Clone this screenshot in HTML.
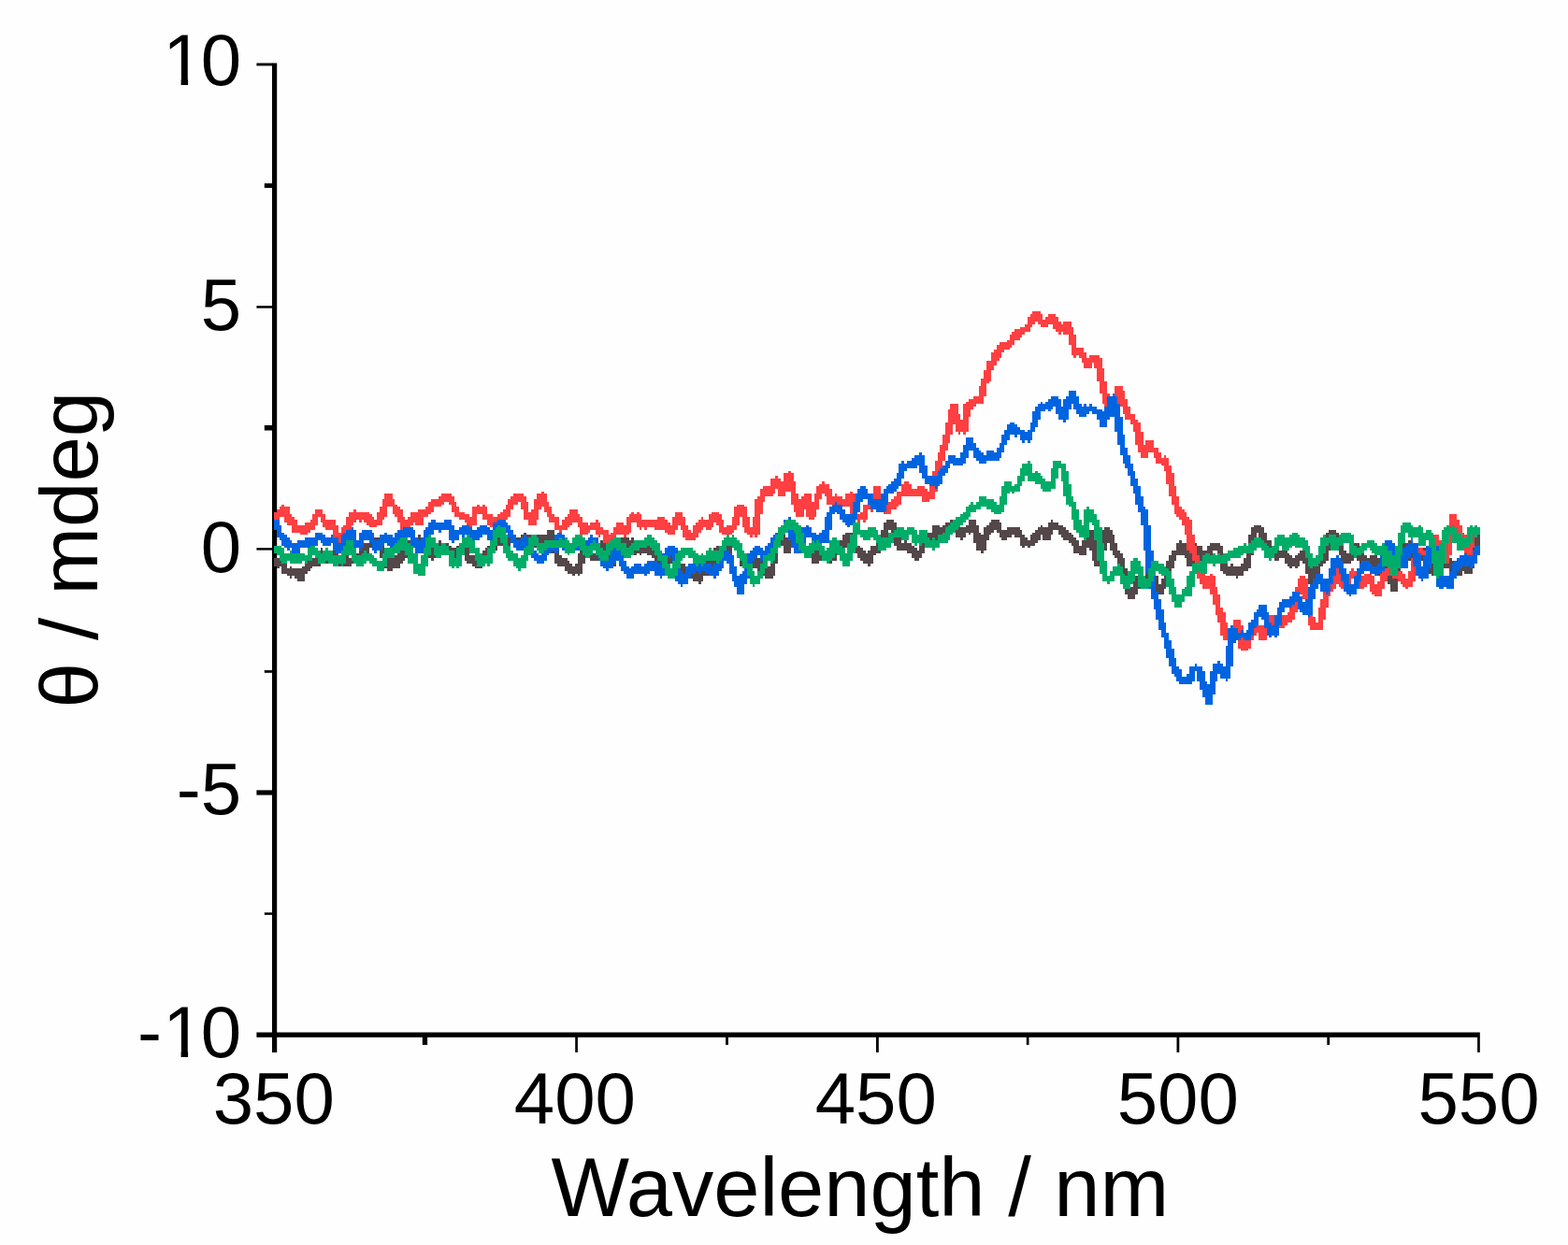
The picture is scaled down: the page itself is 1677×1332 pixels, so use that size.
<!DOCTYPE html>
<html><head><meta charset="utf-8"><title>CD spectrum</title>
<style>html,body{margin:0;padding:0;background:#fefefe;}svg{display:block;}</style>
</head><body>
<svg width="1677" height="1332" viewBox="0 0 1677 1332">
<rect width="1677" height="1332" fill="#fefefe"/>
<g fill="#000">
<rect x="291.0" y="67.5" width="5.2" height="1058.5"/>
<rect x="274.4" y="1104.5" width="1308.4" height="5.3"/>
<rect x="274.4" y="67.5" width="17.1" height="2.9"/>
<rect x="274.4" y="327.2" width="17.1" height="2.5"/>
<rect x="274.4" y="586.2" width="17.1" height="2.4"/>
<rect x="274.4" y="845.4" width="17.1" height="5.2"/>
<rect x="282.8" y="196.2" width="8.7" height="4.8"/>
<rect x="282.8" y="455.0" width="8.7" height="5.5"/>
<rect x="282.8" y="717.1" width="8.7" height="2.7"/>
<rect x="282.8" y="976.3" width="8.7" height="2.5"/>
<rect x="615.2" y="1109" width="2.7" height="16.9"/>
<rect x="937.0" y="1109" width="2.8" height="16.9"/>
<rect x="1258.5" y="1109" width="2.8" height="16.9"/>
<rect x="1580.1" y="1109" width="2.7" height="16.9"/>
<rect x="451.8" y="1109" width="5.3" height="8.9"/>
<rect x="776.1" y="1109" width="2.8" height="8.9"/>
<rect x="1097.8" y="1109" width="2.7" height="8.9"/>
<rect x="1419.3" y="1109" width="2.8" height="8.9"/>
</g>
<g fill="none" stroke-width="8" stroke-linejoin="miter" stroke-miterlimit="2" stroke-linecap="butt" shape-rendering="crispEdges">
<path fill="#534749" stroke="none" d="M948 556h8v3h-8zM1016 556h3v3h-3zM1022 556h3v3h-3zM1036 556h8v3h-8zM1060 556h9v3h-9zM1124 556h2v3h-2zM945 559h14v3h-14zM1011 559h16v3h-16zM1036 559h8v3h-8zM1058 559h13v3h-13zM1121 559h11v3h-11zM945 562h14v2h-14zM997 562h8v2h-8zM1008 562h19v2h-19zM1033 562h14v2h-14zM1055 562h16v2h-16zM1113 562h2v2h-2zM1121 562h16v2h-16zM1341 562h8v2h-8zM945 564h16v3h-16zM997 564h50v3h-50zM1052 564h19v3h-19zM1077 564h14v3h-14zM1110 564h30v3h-30zM1181 564h6v3h-6zM1338 564h14v3h-14zM585 567h8v3h-8zM942 567h8v3h-8zM953 567h8v3h-8zM997 567h19v3h-19zM1022 567h25v3h-25zM1052 567h11v3h-11zM1066 567h27v3h-27zM1107 567h19v3h-19zM1132 567h11v3h-11zM1162 567h8v3h-8zM1179 567h11v3h-11zM1338 567h14v3h-14zM1421 567h8v3h-8zM560 570h3v2h-3zM585 570h8v2h-8zM829 570h3v2h-3zM835 570h3v2h-3zM846 570h3v2h-3zM904 570h8v2h-8zM942 570h8v2h-8zM953 570h8v2h-8zM992 570h22v2h-22zM1022 570h11v2h-11zM1036 570h2v2h-2zM1041 570h8v2h-8zM1052 570h8v2h-8zM1069 570h24v2h-24zM1104 570h22v2h-22zM1132 570h14v2h-14zM1162 570h8v2h-8zM1179 570h11v2h-11zM1338 570h6v2h-6zM1346 570h9v2h-9zM1418 570h14v2h-14zM447 572h3v3h-3zM541 572h8v3h-8zM557 572h11v3h-11zM574 572h19v3h-19zM827 572h13v3h-13zM843 572h11v3h-11zM901 572h14v3h-14zM942 572h8v3h-8zM956 572h5v3h-5zM989 572h22v3h-22zM1022 572h11v3h-11zM1041 572h17v3h-17zM1069 572h13v3h-13zM1085 572h11v3h-11zM1102 572h11v3h-11zM1115 572h9v3h-9zM1135 572h13v3h-13zM1159 572h11v3h-11zM1179 572h13v3h-13zM1335 572h9v3h-9zM1346 572h9v3h-9zM1418 572h14v3h-14zM1577 572h6v3h-6zM398 575h8v3h-8zM442 575h11v3h-11zM530 575h66v3h-66zM662 575h11v3h-11zM675 575h3v3h-3zM783 575h5v3h-5zM827 575h30v3h-30zM901 575h14v3h-14zM939 575h9v3h-9zM956 575h8v3h-8zM986 575h25v3h-25zM1027 575h3v3h-3zM1041 575h17v3h-17zM1071 575h6v3h-6zM1091 575h8v3h-8zM1102 575h11v3h-11zM1115 575h9v3h-9zM1137 575h14v3h-14zM1159 575h14v3h-14zM1176 575h16v3h-16zM1335 575h9v3h-9zM1346 575h9v3h-9zM1418 575h16v3h-16zM1577 575h6v3h-6zM395 578h11v3h-11zM436 578h19v3h-19zM469 578h3v3h-3zM527 578h69v3h-69zM642 578h9v3h-9zM662 578h19v3h-19zM780 578h11v3h-11zM827 578h35v3h-35zM895 578h22v3h-22zM939 578h9v3h-9zM956 578h8v3h-8zM967 578h3v3h-3zM986 578h11v3h-11zM1003 578h5v3h-5zM1041 578h14v3h-14zM1091 578h19v3h-19zM1143 578h11v3h-11zM1157 578h16v3h-16zM1176 578h16v3h-16zM1261 578h3v3h-3zM1335 578h9v3h-9zM1349 578h11v3h-11zM1418 578h5v3h-5zM1426 578h8v3h-8zM1506 578h3v3h-3zM1575 578h8v3h-8zM389 581h20v3h-20zM433 581h25v3h-25zM464 581h16v3h-16zM494 581h3v3h-3zM524 581h22v3h-22zM549 581h8v3h-8zM560 581h25v3h-25zM587 581h9v3h-9zM623 581h6v3h-6zM642 581h9v3h-9zM662 581h19v3h-19zM780 581h11v3h-11zM827 581h35v3h-35zM890 581h16v3h-16zM909 581h8v3h-8zM937 581h11v3h-11zM956 581h19v3h-19zM986 581h8v3h-8zM1044 581h11v3h-11zM1091 581h16v3h-16zM1146 581h8v3h-8zM1157 581h16v3h-16zM1176 581h8v3h-8zM1187 581h8v3h-8zM1258 581h11v3h-11zM1278 581h2v3h-2zM1294 581h11v3h-11zM1335 581h6v3h-6zM1349 581h11v3h-11zM1415 581h8v3h-8zM1429 581h5v3h-5zM1445 581h9v3h-9zM1500 581h11v3h-11zM1575 581h8v3h-8zM384 584h27v2h-27zM431 584h13v2h-13zM450 584h11v2h-11zM464 584h19v2h-19zM488 584h11v2h-11zM521 584h11v2h-11zM538 584h8v2h-8zM571 584h5v2h-5zM590 584h8v2h-8zM620 584h11v2h-11zM640 584h11v2h-11zM659 584h36v2h-36zM766 584h3v2h-3zM772 584h2v2h-2zM777 584h17v2h-17zM827 584h5v2h-5zM838 584h11v2h-11zM851 584h3v2h-3zM857 584h11v2h-11zM890 584h16v2h-16zM912 584h8v2h-8zM931 584h14v2h-14zM959 584h19v2h-19zM983 584h9v2h-9zM1044 584h11v2h-11zM1093 584h3v2h-3zM1099 584h3v2h-3zM1148 584h25v2h-25zM1176 584h8v2h-8zM1187 584h8v2h-8zM1258 584h11v2h-11zM1275 584h11v2h-11zM1291 584h17v2h-17zM1333 584h8v2h-8zM1349 584h14v2h-14zM1415 584h8v2h-8zM1429 584h8v2h-8zM1443 584h13v2h-13zM1495 584h16v2h-16zM1575 584h8v2h-8zM343 586h2v3h-2zM356 586h3v3h-3zM384 586h11v3h-11zM398 586h2v3h-2zM403 586h8v3h-8zM431 586h11v3h-11zM450 586h52v3h-52zM519 586h13v3h-13zM590 586h8v3h-8zM620 586h11v3h-11zM637 586h16v3h-16zM656 586h11v3h-11zM675 586h28v3h-28zM763 586h20v3h-20zM785 586h9v3h-9zM824 586h8v3h-8zM838 586h8v3h-8zM857 586h14v3h-14zM890 586h14v3h-14zM912 586h11v3h-11zM931 586h14v3h-14zM959 586h22v3h-22zM983 586h6v3h-6zM1044 586h11v3h-11zM1148 586h14v3h-14zM1165 586h8v3h-8zM1176 586h8v3h-8zM1187 586h8v3h-8zM1258 586h14v3h-14zM1275 586h11v3h-11zM1291 586h17v3h-17zM1333 586h8v3h-8zM1355 586h11v3h-11zM1371 586h3v3h-3zM1415 586h8v3h-8zM1429 586h8v3h-8zM1443 586h13v3h-13zM1495 586h16v3h-16zM1520 586h5v3h-5zM1575 586h8v3h-8zM340 589h22v3h-22zM384 589h11v3h-11zM406 589h8v3h-8zM428 589h8v3h-8zM453 589h16v3h-16zM475 589h27v3h-27zM516 589h14v3h-14zM590 589h8v3h-8zM620 589h14v3h-14zM637 589h16v3h-16zM656 589h11v3h-11zM675 589h31v3h-31zM717 589h8v3h-8zM763 589h20v3h-20zM788 589h6v3h-6zM824 589h8v3h-8zM838 589h8v3h-8zM860 589h22v3h-22zM884 589h3v3h-3zM890 589h5v3h-5zM915 589h11v3h-11zM928 589h14v3h-14zM970 589h19v3h-19zM1049 589h3v3h-3zM1148 589h14v3h-14zM1168 589h13v3h-13zM1190 589h8v3h-8zM1253 589h44v3h-44zM1302 589h6v3h-6zM1333 589h8v3h-8zM1355 589h22v3h-22zM1390 589h9v3h-9zM1415 589h6v3h-6zM1432 589h8v3h-8zM1443 589h13v3h-13zM1495 589h8v3h-8zM1506 589h5v3h-5zM1517 589h11v3h-11zM1575 589h5v3h-5zM337 592h25v2h-25zM378 592h11v2h-11zM406 592h8v2h-8zM425 592h11v2h-11zM455 592h14v2h-14zM477 592h25v2h-25zM516 592h11v2h-11zM593 592h5v2h-5zM618 592h8v2h-8zM629 592h24v2h-24zM656 592h8v2h-8zM678 592h3v2h-3zM684 592h2v2h-2zM692 592h14v2h-14zM717 592h8v2h-8zM761 592h22v2h-22zM788 592h8v2h-8zM824 592h8v2h-8zM862 592h33v2h-33zM917 592h20v2h-20zM975 592h11v2h-11zM1154 592h8v2h-8zM1168 592h13v2h-13zM1190 592h11v2h-11zM1253 592h44v2h-44zM1302 592h9v2h-9zM1333 592h8v2h-8zM1357 592h22v2h-22zM1388 592h11v2h-11zM1412 592h9v2h-9zM1432 592h16v2h-16zM1451 592h8v2h-8zM1492 592h8v2h-8zM1506 592h8v2h-8zM1517 592h11v2h-11zM1572 592h8v2h-8zM332 594h2v3h-2zM337 594h28v3h-28zM370 594h3v3h-3zM376 594h13v3h-13zM406 594h8v3h-8zM422 594h14v3h-14zM455 594h11v3h-11zM480 594h11v3h-11zM497 594h11v3h-11zM513 594h8v3h-8zM593 594h8v3h-8zM618 594h8v3h-8zM629 594h13v3h-13zM648 594h14v3h-14zM697 594h9v3h-9zM717 594h11v3h-11zM758 594h11v3h-11zM772 594h2v3h-2zM777 594h3v3h-3zM788 594h8v3h-8zM805 594h5v3h-5zM824 594h8v3h-8zM865 594h30v3h-30zM917 594h17v3h-17zM975 594h11v3h-11zM1168 594h13v3h-13zM1192 594h9v3h-9zM1250 594h8v3h-8zM1267 594h30v3h-30zM1302 594h9v3h-9zM1333 594h5v3h-5zM1360 594h22v3h-22zM1385 594h16v3h-16zM1410 594h11v3h-11zM1434 594h14v3h-14zM1451 594h11v3h-11zM1465 594h8v3h-8zM1492 594h8v3h-8zM1506 594h25v3h-25zM1572 594h8v3h-8zM293 597h11v3h-11zM329 597h14v3h-14zM345 597h9v3h-9zM356 597h31v3h-31zM409 597h24v3h-24zM461 597h3v3h-3zM497 597h22v3h-22zM593 597h14v3h-14zM618 597h8v3h-8zM631 597h9v3h-9zM648 597h14v3h-14zM700 597h8v3h-8zM711 597h17v3h-17zM758 597h11v3h-11zM791 597h8v3h-8zM802 597h11v3h-11zM824 597h8v3h-8zM868 597h11v3h-11zM882 597h13v3h-13zM920 597h14v3h-14zM978 597h5v3h-5zM1168 597h13v3h-13zM1195 597h8v3h-8zM1250 597h8v3h-8zM1269 597h11v3h-11zM1283 597h3v3h-3zM1302 597h9v3h-9zM1330 597h8v3h-8zM1363 597h5v3h-5zM1374 597h27v3h-27zM1410 597h11v3h-11zM1434 597h14v3h-14zM1451 597h25v3h-25zM1492 597h8v3h-8zM1506 597h25v3h-25zM1544 597h3v3h-3zM1550 597h3v3h-3zM1572 597h8v3h-8zM293 600h14v3h-14zM326 600h17v3h-17zM345 600h9v3h-9zM356 600h25v3h-25zM409 600h22v3h-22zM499 600h20v3h-20zM593 600h16v3h-16zM618 600h8v3h-8zM651 600h8v3h-8zM700 600h8v3h-8zM711 600h17v3h-17zM755 600h11v3h-11zM791 600h25v3h-25zM824 600h8v3h-8zM868 600h8v3h-8zM887 600h3v3h-3zM923 600h11v3h-11zM1170 600h9v3h-9zM1195 600h8v3h-8zM1247 600h9v3h-9zM1269 600h9v3h-9zM1305 600h6v3h-6zM1330 600h8v3h-8zM1374 600h16v3h-16zM1393 600h8v3h-8zM1407 600h11v3h-11zM1437 600h8v3h-8zM1454 600h22v3h-22zM1492 600h6v3h-6zM1509 600h11v3h-11zM1525 600h8v3h-8zM1539 600h16v3h-16zM1561 600h3v3h-3zM1566 600h3v3h-3zM1572 600h5v3h-5zM293 603h14v3h-14zM326 603h17v3h-17zM359 603h17v3h-17zM411 603h17v3h-17zM505 603h14v3h-14zM596 603h16v3h-16zM615 603h8v3h-8zM651 603h8v3h-8zM700 603h17v3h-17zM722 603h11v3h-11zM752 603h11v3h-11zM791 603h27v3h-27zM824 603h5v3h-5zM928 603h3v3h-3zM1170 603h9v3h-9zM1195 603h8v3h-8zM1247 603h9v3h-9zM1269 603h9v3h-9zM1305 603h8v3h-8zM1316 603h3v3h-3zM1327 603h11v3h-11zM1377 603h13v3h-13zM1396 603h19v3h-19zM1456 603h20v3h-20zM1489 603h9v3h-9zM1509 603h11v3h-11zM1525 603h8v3h-8zM1536 603h41v3h-41zM296 606h3v2h-3zM301 606h6v2h-6zM310 606h2v2h-2zM323 606h11v2h-11zM411 606h17v2h-17zM508 606h8v2h-8zM604 606h19v2h-19zM703 606h11v2h-11zM722 606h17v2h-17zM752 606h9v2h-9zM794 606h35v2h-35zM1198 606h5v2h-5zM1247 606h9v2h-9zM1305 606h33v2h-33zM1379 606h3v2h-3zM1385 606h3v2h-3zM1396 606h16v2h-16zM1459 606h8v2h-8zM1470 606h8v2h-8zM1481 606h3v2h-3zM1489 606h9v2h-9zM1509 606h11v2h-11zM1525 606h52v2h-52zM301 608h31v3h-31zM414 608h6v3h-6zM604 608h19v3h-19zM703 608h11v3h-11zM725 608h19v3h-19zM752 608h6v3h-6zM799 608h3v3h-3zM810 608h19v3h-19zM1198 608h8v3h-8zM1245 608h8v3h-8zM1305 608h30v3h-30zM1396 608h16v3h-16zM1470 608h17v3h-17zM1489 608h9v3h-9zM1514 608h3v3h-3zM1528 608h14v3h-14zM1550 608h25v3h-25zM301 611h28v3h-28zM607 611h16v3h-16zM706 611h5v3h-5zM728 611h30v3h-30zM813 611h16v3h-16zM1198 611h8v3h-8zM1225 611h9v3h-9zM1245 611h8v3h-8zM1308 611h22v3h-22zM1396 611h16v3h-16zM1470 611h28v3h-28zM1528 611h14v3h-14zM1555 611h9v3h-9zM1566 611h9v3h-9zM307 614h19v2h-19zM612 614h3v2h-3zM618 614h2v2h-2zM733 614h25v2h-25zM816 614h13v2h-13zM1198 614h8v2h-8zM1225 614h11v2h-11zM1245 614h8v2h-8zM1311 614h19v2h-19zM1399 614h11v2h-11zM1473 614h3v2h-3zM1478 614h20v2h-20zM1531 614h8v2h-8zM1555 614h9v2h-9zM310 616h2v3h-2zM315 616h11v3h-11zM739 616h13v3h-13zM818 616h9v3h-9zM1198 616h8v3h-8zM1214 616h6v3h-6zM1223 616h16v3h-16zM1245 616h5v3h-5zM1322 616h2v3h-2zM1399 616h11v3h-11zM1481 616h14v3h-14zM318 619h8v3h-8zM741 619h11v3h-11zM1201 619h8v3h-8zM1212 619h27v3h-27zM1242 619h8v3h-8zM1399 619h11v3h-11zM1484 619h11v3h-11zM747 622h3v3h-3zM1201 622h8v3h-8zM1212 622h16v3h-16zM1231 622h8v3h-8zM1242 622h8v3h-8zM1399 622h11v3h-11zM1484 622h11v3h-11zM1201 625h8v3h-8zM1212 625h13v3h-13zM1234 625h13v3h-13zM1401 625h3v3h-3zM1487 625h8v3h-8zM1203 628h22v2h-22zM1234 628h13v2h-13zM1487 628h8v2h-8zM1203 630h14v3h-14zM1236 630h9v3h-9zM1487 630h8v3h-8zM1203 633h14v3h-14zM1236 633h9v3h-9zM1206 636h8v2h-8zM1206 638h8v3h-8z"/>
<path fill="#FF3F41" stroke="none" d="M1104 333h9v3h-9zM1102 336h13v3h-13zM1121 336h8v3h-8zM1099 339h16v3h-16zM1118 339h14v3h-14zM1099 342h33v2h-33zM1099 344h8v3h-8zM1110 344h25v3h-25zM1137 344h9v3h-9zM1096 347h8v3h-8zM1113 347h8v3h-8zM1126 347h20v3h-20zM1091 350h11v2h-11zM1126 350h22v2h-22zM1085 352h17v3h-17zM1129 352h19v3h-19zM1082 355h14v3h-14zM1132 355h3v3h-3zM1137 355h11v3h-11zM1080 358h13v3h-13zM1143 358h8v3h-8zM1080 361h11v3h-11zM1143 361h8v3h-8zM1077 364h8v2h-8zM1143 364h8v2h-8zM1069 366h16v3h-16zM1143 366h8v3h-8zM1066 369h16v3h-16zM1146 369h5v3h-5zM1066 372h14v2h-14zM1146 372h13v2h-13zM1063 374h11v3h-11zM1146 374h13v3h-13zM1060 377h11v3h-11zM1146 377h16v3h-16zM1060 380h11v3h-11zM1148 380h3v3h-3zM1154 380h8v3h-8zM1165 380h11v3h-11zM1060 383h9v3h-9zM1157 383h22v3h-22zM1055 386h11v2h-11zM1157 386h22v2h-22zM1055 388h11v3h-11zM1159 388h9v3h-9zM1170 388h9v3h-9zM1055 391h8v3h-8zM1159 391h9v3h-9zM1170 391h9v3h-9zM1055 394h8v2h-8zM1173 394h8v2h-8zM1052 396h8v3h-8zM1173 396h8v3h-8zM1052 399h8v3h-8zM1173 399h8v3h-8zM1052 402h8v3h-8zM1173 402h8v3h-8zM1049 405h11v3h-11zM1173 405h8v3h-8zM1049 408h9v2h-9zM1176 408h8v2h-8zM1049 410h6v3h-6zM1176 410h8v3h-8zM1047 413h8v3h-8zM1176 413h8v3h-8zM1192 413h9v3h-9zM1047 416h8v2h-8zM1176 416h8v2h-8zM1192 416h9v2h-9zM1047 418h8v3h-8zM1176 418h8v3h-8zM1192 418h11v3h-11zM1047 421h8v3h-8zM1179 421h8v3h-8zM1190 421h13v3h-13zM1041 424h11v3h-11zM1179 424h8v3h-8zM1190 424h13v3h-13zM1036 427h16v3h-16zM1179 427h8v3h-8zM1190 427h16v3h-16zM1033 430h19v2h-19zM1179 430h8v2h-8zM1190 430h16v2h-16zM1016 432h9v3h-9zM1030 432h14v3h-14zM1181 432h14v3h-14zM1198 432h8v3h-8zM1016 435h9v3h-9zM1030 435h11v3h-11zM1181 435h14v3h-14zM1201 435h8v3h-8zM1014 438h11v2h-11zM1030 438h8v2h-8zM1184 438h11v2h-11zM1201 438h8v2h-8zM1014 440h11v3h-11zM1030 440h8v3h-8zM1187 440h8v3h-8zM1201 440h8v3h-8zM1014 443h13v3h-13zM1030 443h8v3h-8zM1203 443h11v3h-11zM1014 446h13v3h-13zM1030 446h6v3h-6zM1203 446h11v3h-11zM1014 449h22v3h-22zM1209 449h8v3h-8zM1011 452h25v2h-25zM1209 452h11v2h-11zM1011 454h8v3h-8zM1022 454h14v3h-14zM1212 454h8v3h-8zM1011 457h8v3h-8zM1022 457h14v3h-14zM1212 457h8v3h-8zM1011 460h8v2h-8zM1022 460h14v2h-14zM1212 460h8v2h-8zM1011 462h8v3h-8zM1025 462h2v3h-2zM1030 462h3v3h-3zM1214 462h9v3h-9zM1008 465h8v3h-8zM1214 465h9v3h-9zM1008 468h8v3h-8zM1214 468h9v3h-9zM1008 471h8v3h-8zM1214 471h9v3h-9zM1225 471h9v3h-9zM1008 474h6v2h-6zM1214 474h9v2h-9zM1225 474h9v2h-9zM1005 476h9v3h-9zM1217 476h17v3h-17zM1005 479h9v3h-9zM1217 479h22v3h-22zM1005 482h6v2h-6zM1217 482h22v2h-22zM1003 484h8v3h-8zM1220 484h8v3h-8zM1234 484h8v3h-8zM1003 487h8v3h-8zM1220 487h8v3h-8zM1234 487h8v3h-8zM1245 487h2v3h-2zM1003 490h8v3h-8zM1236 490h14v3h-14zM1000 493h8v3h-8zM1236 493h14v3h-14zM1000 496h8v2h-8zM1242 496h8v2h-8zM1000 498h8v3h-8zM1245 498h8v3h-8zM1000 501h5v3h-5zM1245 501h8v3h-8zM843 504h3v2h-3zM997 504h8v2h-8zM1247 504h6v2h-6zM838 506h11v3h-11zM997 506h8v3h-8zM1247 506h9v3h-9zM829 509h3v3h-3zM838 509h11v3h-11zM997 509h8v3h-8zM1247 509h9v3h-9zM824 512h11v3h-11zM838 512h11v3h-11zM997 512h6v3h-6zM1247 512h9v3h-9zM824 515h27v3h-27zM879 515h3v3h-3zM967 515h5v3h-5zM994 515h9v3h-9zM1247 515h9v3h-9zM824 518h27v2h-27zM876 518h11v2h-11zM964 518h11v2h-11zM994 518h9v2h-9zM1250 518h6v2h-6zM816 520h35v3h-35zM873 520h14v3h-14zM934 520h8v3h-8zM964 520h11v3h-11zM981 520h8v3h-8zM994 520h9v3h-9zM1250 520h8v3h-8zM813 523h16v3h-16zM832 523h19v3h-19zM873 523h17v3h-17zM934 523h8v3h-8zM964 523h28v3h-28zM994 523h9v3h-9zM1250 523h8v3h-8zM579 526h3v2h-3zM813 526h16v2h-16zM832 526h8v2h-8zM846 526h5v2h-5zM873 526h17v2h-17zM909 526h3v2h-3zM934 526h8v2h-8zM959 526h41v2h-41zM1250 526h8v2h-8zM411 528h9v3h-9zM472 528h11v3h-11zM549 528h11v3h-11zM574 528h11v3h-11zM813 528h14v3h-14zM832 528h8v3h-8zM846 528h8v3h-8zM860 528h8v3h-8zM871 528h8v3h-8zM882 528h8v3h-8zM893 528h2v3h-2zM904 528h11v3h-11zM931 528h14v3h-14zM959 528h41v3h-41zM1250 528h8v3h-8zM411 531h9v3h-9zM469 531h17v3h-17zM546 531h17v3h-17zM574 531h11v3h-11zM810 531h8v3h-8zM846 531h8v3h-8zM857 531h11v3h-11zM871 531h8v3h-8zM884 531h17v3h-17zM904 531h11v3h-11zM931 531h17v3h-17zM956 531h8v3h-8zM986 531h14v3h-14zM1253 531h8v3h-8zM409 534h13v3h-13zM461 534h25v3h-25zM543 534h20v3h-20zM571 534h14v3h-14zM807 534h11v3h-11zM846 534h22v3h-22zM871 534h5v3h-5zM884 534h31v3h-31zM931 534h19v3h-19zM953 534h11v3h-11zM986 534h8v3h-8zM1253 534h8v3h-8zM409 537h13v3h-13zM458 537h17v3h-17zM480 537h8v3h-8zM543 537h11v3h-11zM557 537h8v3h-8zM571 537h16v3h-16zM807 537h9v3h-9zM846 537h30v3h-30zM884 537h9v3h-9zM895 537h20v3h-20zM928 537h9v3h-9zM939 537h25v3h-25zM1253 537h8v3h-8zM301 540h3v2h-3zM409 540h16v2h-16zM458 540h14v2h-14zM483 540h5v2h-5zM510 540h3v2h-3zM516 540h3v2h-3zM541 540h8v2h-8zM557 540h8v2h-8zM571 540h16v2h-16zM788 540h8v2h-8zM807 540h9v2h-9zM849 540h27v2h-27zM901 540h16v2h-16zM923 540h14v2h-14zM942 540h19v2h-19zM1256 540h5v2h-5zM299 542h11v3h-11zM406 542h8v3h-8zM420 542h8v3h-8zM455 542h9v3h-9zM483 542h8v3h-8zM505 542h16v3h-16zM541 542h8v3h-8zM557 542h8v3h-8zM571 542h8v3h-8zM582 542h8v3h-8zM785 542h14v3h-14zM807 542h9v3h-9zM849 542h27v3h-27zM909 542h8v3h-8zM923 542h14v3h-14zM945 542h14v3h-14zM1256 542h8v3h-8zM296 545h14v3h-14zM337 545h8v3h-8zM378 545h3v3h-3zM406 545h8v3h-8zM420 545h11v3h-11zM447 545h17v3h-17zM483 545h8v3h-8zM505 545h16v3h-16zM538 545h8v3h-8zM560 545h5v3h-5zM568 545h8v3h-8zM582 545h8v3h-8zM609 545h9v3h-9zM785 545h14v3h-14zM807 545h9v3h-9zM849 545h11v3h-11zM862 545h11v3h-11zM909 545h8v3h-8zM923 545h5v3h-5zM931 545h3v3h-3zM945 545h8v3h-8zM1256 545h11v3h-11zM293 548h17v2h-17zM337 548h8v2h-8zM373 548h22v2h-22zM403 548h11v2h-11zM420 548h11v2h-11zM439 548h22v2h-22zM486 548h11v2h-11zM505 548h16v2h-16zM535 548h11v2h-11zM560 548h16v2h-16zM585 548h5v2h-5zM609 548h9v2h-9zM675 548h3v2h-3zM681 548h3v2h-3zM722 548h8v2h-8zM761 548h8v2h-8zM785 548h14v2h-14zM807 548h9v2h-9zM851 548h9v2h-9zM862 548h11v2h-11zM909 548h8v2h-8zM920 548h8v2h-8zM945 548h8v2h-8zM1256 548h13v2h-13zM293 550h19v3h-19zM334 550h14v3h-14zM373 550h25v3h-25zM403 550h11v3h-11zM422 550h9v3h-9zM439 550h19v3h-19zM486 550h16v3h-16zM505 550h5v3h-5zM516 550h11v3h-11zM532 550h14v3h-14zM560 550h16v3h-16zM585 550h8v3h-8zM607 550h13v3h-13zM673 550h13v3h-13zM722 550h8v3h-8zM758 550h14v3h-14zM785 550h14v3h-14zM807 550h6v3h-6zM851 550h9v3h-9zM862 550h11v3h-11zM912 550h16v3h-16zM1258 550h11v3h-11zM1550 550h8v3h-8zM293 553h6v3h-6zM304 553h11v3h-11zM334 553h6v3h-6zM343 553h5v3h-5zM370 553h30v3h-30zM403 553h8v3h-8zM425 553h8v3h-8zM436 553h17v3h-17zM491 553h19v3h-19zM516 553h27v3h-27zM560 553h16v3h-16zM587 553h11v3h-11zM604 553h19v3h-19zM670 553h16v3h-16zM703 553h8v3h-8zM719 553h14v3h-14zM750 553h2v3h-2zM758 553h14v3h-14zM783 553h8v3h-8zM794 553h8v3h-8zM805 553h8v3h-8zM865 553h6v3h-6zM912 553h16v3h-16zM1261 553h11v3h-11zM1550 553h8v3h-8zM304 556h14v3h-14zM332 556h8v3h-8zM343 556h16v3h-16zM370 556h11v3h-11zM384 556h3v3h-3zM389 556h20v3h-20zM425 556h28v3h-28zM497 556h13v3h-13zM521 556h17v3h-17zM565 556h9v3h-9zM587 556h11v3h-11zM601 556h22v3h-22zM637 556h3v3h-3zM670 556h44v3h-44zM719 556h14v3h-14zM747 556h27v3h-27zM783 556h8v3h-8zM794 556h8v3h-8zM805 556h8v3h-8zM917 556h3v3h-3zM923 556h3v3h-3zM1264 556h11v3h-11zM1550 556h11v3h-11zM307 559h11v3h-11zM326 559h14v3h-14zM345 559h14v3h-14zM370 559h8v3h-8zM392 559h17v3h-17zM428 559h14v3h-14zM444 559h9v3h-9zM499 559h11v3h-11zM521 559h11v3h-11zM565 559h9v3h-9zM593 559h5v3h-5zM601 559h11v3h-11zM618 559h11v3h-11zM631 559h11v3h-11zM659 559h8v3h-8zM670 559h5v3h-5zM681 559h36v3h-36zM719 559h14v3h-14zM744 559h19v3h-19zM766 559h8v3h-8zM783 559h8v3h-8zM794 559h8v3h-8zM805 559h8v3h-8zM1264 559h11v3h-11zM1550 559h11v3h-11zM312 562h25v2h-25zM345 562h17v2h-17zM367 562h9v2h-9zM395 562h8v2h-8zM428 562h11v2h-11zM502 562h3v2h-3zM524 562h6v2h-6zM593 562h16v2h-16zM618 562h24v2h-24zM659 562h16v2h-16zM681 562h44v2h-44zM728 562h8v2h-8zM741 562h22v2h-22zM769 562h5v2h-5zM777 562h11v2h-11zM794 562h8v2h-8zM805 562h8v2h-8zM1267 562h8v2h-8zM1547 562h17v2h-17zM312 564h25v3h-25zM348 564h14v3h-14zM365 564h11v3h-11zM428 564h11v3h-11zM593 564h14v3h-14zM620 564h25v3h-25zM656 564h19v3h-19zM684 564h2v3h-2zM689 564h3v3h-3zM700 564h25v3h-25zM728 564h8v3h-8zM741 564h11v3h-11zM755 564h6v3h-6zM769 564h19v3h-19zM796 564h17v3h-17zM1267 564h8v3h-8zM1547 564h17v3h-17zM1575 564h8v3h-8zM312 567h20v3h-20zM356 567h6v3h-6zM365 567h8v3h-8zM431 567h2v3h-2zM598 567h3v3h-3zM620 567h11v3h-11zM637 567h14v3h-14zM656 567h19v3h-19zM711 567h11v3h-11zM730 567h9v3h-9zM741 567h9v3h-9zM769 567h16v3h-16zM796 567h17v3h-17zM1267 567h8v3h-8zM1547 567h8v3h-8zM1558 567h6v3h-6zM1575 567h8v3h-8zM321 570h8v2h-8zM356 570h14v2h-14zM620 570h9v2h-9zM637 570h14v2h-14zM653 570h20v2h-20zM714 570h8v2h-8zM730 570h17v2h-17zM772 570h11v2h-11zM799 570h14v2h-14zM1267 570h8v2h-8zM1547 570h8v2h-8zM1558 570h8v2h-8zM1572 570h11v2h-11zM356 572h14v3h-14zM640 572h2v3h-2zM645 572h14v3h-14zM667 572h3v3h-3zM730 572h17v3h-17zM802 572h3v3h-3zM807 572h3v3h-3zM1269 572h9v3h-9zM1531 572h8v3h-8zM1547 572h8v3h-8zM1561 572h8v3h-8zM1572 572h8v3h-8zM359 575h8v3h-8zM645 575h14v3h-14zM733 575h11v3h-11zM1269 575h9v3h-9zM1531 575h8v3h-8zM1547 575h8v3h-8zM1561 575h16v3h-16zM359 578h8v3h-8zM645 578h14v3h-14zM1269 578h9v3h-9zM1528 578h14v3h-14zM1547 578h6v3h-6zM1561 578h16v3h-16zM648 581h8v3h-8zM1269 581h9v3h-9zM1528 581h25v3h-25zM1564 581h13v3h-13zM648 584h8v2h-8zM1269 584h11v2h-11zM1514 584h3v2h-3zM1528 584h25v2h-25zM1564 584h13v2h-13zM648 586h8v3h-8zM1269 586h11v3h-11zM1511 586h11v3h-11zM1525 586h8v3h-8zM1536 586h17v3h-17zM1566 586h9v3h-9zM1272 589h8v3h-8zM1511 589h22v3h-22zM1536 589h17v3h-17zM1566 589h9v3h-9zM1275 592h5v2h-5zM1511 592h22v2h-22zM1539 592h14v2h-14zM1566 592h9v2h-9zM1275 594h8v3h-8zM1511 594h6v3h-6zM1522 594h9v3h-9zM1539 594h11v3h-11zM1566 594h9v3h-9zM1275 597h8v3h-8zM1509 597h8v3h-8zM1539 597h11v3h-11zM1278 600h5v3h-5zM1509 600h8v3h-8zM1539 600h11v3h-11zM1278 603h8v3h-8zM1509 603h8v3h-8zM1542 603h2v3h-2zM1278 606h8v2h-8zM1426 606h8v2h-8zM1484 606h5v2h-5zM1509 606h8v2h-8zM1280 608h6v3h-6zM1426 608h8v3h-8zM1445 608h3v3h-3zM1478 608h17v3h-17zM1509 608h8v3h-8zM1280 611h9v3h-9zM1423 611h11v3h-11zM1443 611h11v3h-11zM1478 611h22v3h-22zM1506 611h8v3h-8zM1280 614h9v2h-9zM1294 614h3v2h-3zM1423 614h14v2h-14zM1440 614h14v2h-14zM1459 614h8v2h-8zM1476 614h27v2h-27zM1506 614h8v2h-8zM1280 616h20v3h-20zM1390 616h6v3h-6zM1423 616h14v3h-14zM1440 616h14v3h-14zM1456 616h14v3h-14zM1476 616h8v3h-8zM1489 616h14v3h-14zM1506 616h8v3h-8zM1283 619h17v3h-17zM1388 619h11v3h-11zM1423 619h22v3h-22zM1448 619h22v3h-22zM1476 619h8v3h-8zM1495 619h19v3h-19zM1283 622h17v3h-17zM1388 622h11v3h-11zM1421 622h24v3h-24zM1448 622h22v3h-22zM1473 622h8v3h-8zM1498 622h13v3h-13zM1286 625h14v3h-14zM1388 625h11v3h-11zM1421 625h8v3h-8zM1432 625h11v3h-11zM1448 625h14v3h-14zM1465 625h16v3h-16zM1500 625h11v3h-11zM1286 628h16v2h-16zM1385 628h16v2h-16zM1418 628h11v2h-11zM1434 628h9v2h-9zM1451 628h8v2h-8zM1465 628h16v2h-16zM1503 628h3v2h-3zM1294 630h8v3h-8zM1385 630h16v3h-16zM1418 630h8v3h-8zM1465 630h13v3h-13zM1294 633h8v3h-8zM1385 633h16v3h-16zM1415 633h8v3h-8zM1467 633h11v3h-11zM1297 636h8v2h-8zM1385 636h5v2h-5zM1393 636h8v2h-8zM1415 636h8v2h-8zM1470 636h8v2h-8zM1297 638h8v3h-8zM1382 638h8v3h-8zM1393 638h8v3h-8zM1415 638h6v3h-6zM1297 641h8v3h-8zM1382 641h8v3h-8zM1396 641h5v3h-5zM1412 641h9v3h-9zM1297 644h8v3h-8zM1382 644h6v3h-6zM1396 644h8v3h-8zM1412 644h9v3h-9zM1300 647h5v3h-5zM1379 647h9v3h-9zM1396 647h8v3h-8zM1412 647h9v3h-9zM1300 650h8v2h-8zM1379 650h9v2h-9zM1396 650h8v2h-8zM1410 650h8v2h-8zM1300 652h8v3h-8zM1379 652h9v3h-9zM1396 652h8v3h-8zM1410 652h8v3h-8zM1300 655h11v3h-11zM1377 655h8v3h-8zM1396 655h8v3h-8zM1410 655h8v3h-8zM1302 658h9v2h-9zM1357 658h9v2h-9zM1371 658h14v2h-14zM1399 658h5v2h-5zM1410 658h8v2h-8zM1302 660h9v3h-9zM1357 660h9v3h-9zM1368 660h17v3h-17zM1399 660h8v3h-8zM1410 660h8v3h-8zM1302 663h9v3h-9zM1319 663h8v3h-8zM1355 663h27v3h-27zM1399 663h8v3h-8zM1410 663h5v3h-5zM1305 666h8v3h-8zM1319 666h8v3h-8zM1344 666h2v3h-2zM1352 666h25v3h-25zM1399 666h16v3h-16zM1305 669h8v3h-8zM1316 669h14v3h-14zM1338 669h36v3h-36zM1401 669h14v3h-14zM1305 672h8v2h-8zM1316 672h14v2h-14zM1338 672h22v2h-22zM1401 672h14v2h-14zM1305 674h8v3h-8zM1316 674h14v3h-14zM1335 674h22v3h-22zM1305 677h25v3h-25zM1335 677h9v3h-9zM1346 677h11v3h-11zM1308 680h22v2h-22zM1333 680h8v2h-8zM1346 680h9v2h-9zM1308 682h11v3h-11zM1324 682h17v3h-17zM1346 682h9v3h-9zM1313 685h3v3h-3zM1324 685h14v3h-14zM1324 688h14v3h-14zM1324 691h14v3h-14zM1327 694h8v2h-8z"/>
<path fill="#0064E1" stroke="none" d="M1143 418h8v3h-8zM1143 421h8v3h-8zM1190 421h2v3h-2zM1124 424h8v3h-8zM1140 424h14v3h-14zM1184 424h11v3h-11zM1121 427h14v3h-14zM1137 427h17v3h-17zM1184 427h11v3h-11zM1113 430h2v2h-2zM1118 430h17v2h-17zM1137 430h17v2h-17zM1184 430h11v2h-11zM1110 432h25v3h-25zM1137 432h9v3h-9zM1148 432h9v3h-9zM1159 432h3v3h-3zM1165 432h3v3h-3zM1184 432h14v3h-14zM1107 435h19v3h-19zM1129 435h17v3h-17zM1148 435h25v3h-25zM1181 435h17v3h-17zM1107 438h11v2h-11zM1121 438h3v2h-3zM1129 438h14v2h-14zM1151 438h28v2h-28zM1181 438h17v2h-17zM1104 440h9v3h-9zM1129 440h14v3h-14zM1151 440h14v3h-14zM1168 440h30v3h-30zM1104 443h9v3h-9zM1132 443h11v3h-11zM1154 443h8v3h-8zM1173 443h25v3h-25zM1104 446h9v3h-9zM1132 446h11v3h-11zM1173 446h14v3h-14zM1192 446h9v3h-9zM1104 449h6v3h-6zM1137 449h3v3h-3zM1176 449h8v3h-8zM1192 449h9v3h-9zM1080 452h5v2h-5zM1102 452h8v2h-8zM1176 452h8v2h-8zM1192 452h9v2h-9zM1077 454h11v3h-11zM1102 454h8v3h-8zM1176 454h8v3h-8zM1192 454h9v3h-9zM1077 457h14v3h-14zM1102 457h5v3h-5zM1192 457h9v3h-9zM1074 460h22v2h-22zM1099 460h8v2h-8zM1192 460h9v2h-9zM1074 462h30v3h-30zM1195 462h6v3h-6zM1071 465h9v3h-9zM1085 465h3v3h-3zM1091 465h13v3h-13zM1195 465h8v3h-8zM1033 468h8v3h-8zM1071 468h9v3h-9zM1091 468h13v3h-13zM1195 468h8v3h-8zM1033 471h8v3h-8zM1071 471h6v3h-6zM1093 471h3v3h-3zM1099 471h3v3h-3zM1195 471h8v3h-8zM1033 474h11v2h-11zM1069 474h8v2h-8zM1195 474h8v2h-8zM1030 476h14v3h-14zM1069 476h5v3h-5zM1198 476h5v3h-5zM1030 479h17v3h-17zM1066 479h8v3h-8zM1198 479h8v3h-8zM1030 482h6v2h-6zM1041 482h8v2h-8zM1055 482h8v2h-8zM1066 482h8v2h-8zM1198 482h8v2h-8zM983 484h3v3h-3zM1027 484h9v3h-9zM1041 484h11v3h-11zM1055 484h16v3h-16zM1198 484h8v3h-8zM978 487h11v3h-11zM1014 487h8v3h-8zM1027 487h9v3h-9zM1041 487h30v3h-30zM1201 487h8v3h-8zM975 490h14v3h-14zM1014 490h19v3h-19zM1044 490h25v3h-25zM1201 490h8v3h-8zM964 493h3v3h-3zM970 493h19v3h-19zM1011 493h22v3h-22zM1047 493h8v3h-8zM1201 493h8v3h-8zM961 496h28v2h-28zM1011 496h5v2h-5zM1019 496h11v2h-11zM1203 496h9v2h-9zM961 498h20v3h-20zM983 498h9v3h-9zM1008 498h8v3h-8zM1203 498h9v3h-9zM961 501h9v3h-9zM983 501h9v3h-9zM1005 501h9v3h-9zM1206 501h6v3h-6zM961 504h6v2h-6zM983 504h9v2h-9zM1003 504h11v2h-11zM1206 504h8v2h-8zM959 506h8v3h-8zM986 506h6v3h-6zM1003 506h8v3h-8zM1206 506h8v3h-8zM959 509h8v3h-8zM986 509h22v3h-22zM1209 509h5v3h-5zM956 512h8v3h-8zM989 512h19v3h-19zM1209 512h8v3h-8zM953 515h11v3h-11zM989 515h19v3h-19zM1209 515h8v3h-8zM950 518h14v2h-14zM994 518h11v2h-11zM1209 518h8v2h-8zM920 520h6v3h-6zM948 520h13v3h-13zM1000 520h3v3h-3zM1212 520h8v3h-8zM917 523h11v3h-11zM945 523h14v3h-14zM1212 523h8v3h-8zM917 526h11v2h-11zM945 526h11v2h-11zM1212 526h8v2h-8zM915 528h19v3h-19zM942 528h8v3h-8zM1214 528h6v3h-6zM915 531h19v3h-19zM942 531h8v3h-8zM1214 531h9v3h-9zM915 534h8v3h-8zM928 534h22v3h-22zM1214 534h9v3h-9zM893 537h2v3h-2zM912 537h8v3h-8zM928 537h22v3h-22zM1214 537h9v3h-9zM890 540h11v2h-11zM912 540h8v2h-8zM931 540h17v2h-17zM1217 540h6v2h-6zM887 542h14v3h-14zM912 542h8v3h-8zM931 542h17v3h-17zM1217 542h8v3h-8zM887 545h17v3h-17zM912 545h8v3h-8zM937 545h11v3h-11zM1217 545h11v3h-11zM884 548h9v2h-9zM895 548h9v2h-9zM912 548h5v2h-5zM1220 548h8v2h-8zM884 550h6v3h-6zM898 550h19v3h-19zM1220 550h8v3h-8zM843 553h3v3h-3zM882 553h8v3h-8zM898 553h19v3h-19zM1220 553h8v3h-8zM293 556h6v3h-6zM461 556h5v3h-5zM475 556h8v3h-8zM532 556h9v3h-9zM838 556h11v3h-11zM882 556h8v3h-8zM901 556h14v3h-14zM1220 556h8v3h-8zM293 559h6v3h-6zM458 559h25v3h-25zM527 559h16v3h-16zM838 559h11v3h-11zM882 559h8v3h-8zM904 559h11v3h-11zM1220 559h8v3h-8zM293 562h8v2h-8zM458 562h28v2h-28zM494 562h8v2h-8zM513 562h8v2h-8zM527 562h19v2h-19zM835 562h14v2h-14zM862 562h3v2h-3zM882 562h8v2h-8zM906 562h3v2h-3zM1223 562h8v2h-8zM293 564h8v3h-8zM376 564h2v3h-2zM431 564h11v3h-11zM455 564h31v3h-31zM491 564h14v3h-14zM510 564h14v3h-14zM527 564h19v3h-19zM835 564h14v3h-14zM857 564h11v3h-11zM882 564h8v3h-8zM1223 564h8v3h-8zM296 567h5v3h-5zM370 567h11v3h-11zM387 567h11v3h-11zM425 567h19v3h-19zM453 567h11v3h-11zM469 567h3v3h-3zM480 567h52v3h-52zM541 567h8v3h-8zM832 567h8v3h-8zM843 567h6v3h-6zM857 567h11v3h-11zM879 567h8v3h-8zM1223 567h8v3h-8zM296 570h8v2h-8zM337 570h8v2h-8zM367 570h14v2h-14zM384 570h16v2h-16zM411 570h3v2h-3zM422 570h22v2h-22zM453 570h11v2h-11zM480 570h52v2h-52zM543 570h6v2h-6zM596 570h5v2h-5zM829 570h9v2h-9zM843 570h8v2h-8zM857 570h16v2h-16zM876 570h11v2h-11zM1223 570h8v2h-8zM296 572h11v3h-11zM337 572h11v3h-11zM354 572h2v3h-2zM365 572h16v3h-16zM384 572h16v3h-16zM406 572h14v3h-14zM422 572h22v3h-22zM453 572h8v3h-8zM480 572h11v3h-11zM494 572h3v3h-3zM499 572h17v3h-17zM521 572h11v3h-11zM543 572h9v3h-9zM560 572h3v3h-3zM593 572h11v3h-11zM631 572h3v3h-3zM827 572h11v3h-11zM843 572h8v3h-8zM854 572h33v3h-33zM1223 572h8v3h-8zM299 575h11v3h-11zM326 575h36v3h-36zM365 575h16v3h-16zM384 575h16v3h-16zM406 575h25v3h-25zM439 575h8v3h-8zM450 575h8v3h-8zM480 575h11v3h-11zM502 575h11v3h-11zM521 575h11v3h-11zM546 575h6v3h-6zM557 575h11v3h-11zM593 575h11v3h-11zM615 575h3v3h-3zM629 575h11v3h-11zM656 575h8v3h-8zM824 575h14v3h-14zM843 575h8v3h-8zM854 575h8v3h-8zM868 575h19v3h-19zM1223 575h8v3h-8zM301 578h11v3h-11zM318 578h22v3h-22zM343 578h19v3h-19zM365 578h8v3h-8zM376 578h13v3h-13zM395 578h33v3h-33zM439 578h19v3h-19zM483 578h3v3h-3zM527 578h3v3h-3zM546 578h22v3h-22zM593 578h14v3h-14zM612 578h11v3h-11zM626 578h14v3h-14zM656 578h8v3h-8zM824 578h11v3h-11zM846 578h16v3h-16zM868 578h19v3h-19zM1223 578h8v3h-8zM1481 578h8v3h-8zM1509 578h2v3h-2zM301 581h39v3h-39zM345 581h9v3h-9zM356 581h14v3h-14zM376 581h13v3h-13zM398 581h13v3h-13zM414 581h14v3h-14zM439 581h16v3h-16zM549 581h22v3h-22zM585 581h2v3h-2zM590 581h52v3h-52zM656 581h8v3h-8zM821 581h11v3h-11zM846 581h14v3h-14zM873 581h3v3h-3zM1223 581h8v3h-8zM1478 581h14v3h-14zM1506 581h11v3h-11zM1528 581h8v3h-8zM304 584h30v2h-30zM356 584h11v2h-11zM376 584h13v2h-13zM398 584h11v2h-11zM417 584h8v2h-8zM442 584h13v2h-13zM549 584h22v2h-22zM582 584h49v2h-49zM634 584h8v2h-8zM653 584h11v2h-11zM714 584h8v2h-8zM807 584h6v2h-6zM818 584h11v2h-11zM846 584h11v2h-11zM1223 584h8v2h-8zM1478 584h20v2h-20zM1503 584h14v2h-14zM1525 584h14v2h-14zM1577 584h6v2h-6zM307 586h3v3h-3zM312 586h9v3h-9zM356 586h11v3h-11zM378 586h3v3h-3zM384 586h3v3h-3zM398 586h11v3h-11zM444 586h9v3h-9zM552 586h8v3h-8zM563 586h8v3h-8zM582 586h16v3h-16zM601 586h28v3h-28zM637 586h5v3h-5zM653 586h14v3h-14zM711 586h14v3h-14zM772 586h2v3h-2zM805 586h11v3h-11zM818 586h9v3h-9zM849 586h8v3h-8zM1223 586h8v3h-8zM1478 586h39v3h-39zM1525 586h14v3h-14zM1577 586h6v3h-6zM312 589h9v3h-9zM359 589h6v3h-6zM400 589h3v3h-3zM444 589h9v3h-9zM565 589h9v3h-9zM582 589h8v3h-8zM593 589h3v3h-3zM623 589h3v3h-3zM637 589h8v3h-8zM653 589h14v3h-14zM711 589h14v3h-14zM769 589h11v3h-11zM802 589h22v3h-22zM849 589h8v3h-8zM1225 589h9v3h-9zM1478 589h39v3h-39zM1525 589h14v3h-14zM1575 589h8v3h-8zM565 592h11v2h-11zM579 592h8v2h-8zM637 592h8v2h-8zM653 592h14v2h-14zM708 592h17v2h-17zM769 592h14v2h-14zM799 592h25v2h-25zM1225 592h9v2h-9zM1476 592h8v2h-8zM1487 592h22v2h-22zM1511 592h9v2h-9zM1525 592h17v2h-17zM1566 592h3v2h-3zM1575 592h8v2h-8zM568 594h17v3h-17zM640 594h5v3h-5zM653 594h14v3h-14zM708 594h9v3h-9zM719 594h9v3h-9zM769 594h16v3h-16zM799 594h11v3h-11zM813 594h8v3h-8zM1225 594h9v3h-9zM1429 594h3v3h-3zM1476 594h8v3h-8zM1487 594h22v3h-22zM1511 594h9v3h-9zM1522 594h9v3h-9zM1533 594h9v3h-9zM1561 594h19v3h-19zM571 597h14v3h-14zM640 597h8v3h-8zM651 597h16v3h-16zM708 597h6v3h-6zM719 597h9v3h-9zM769 597h16v3h-16zM799 597h8v3h-8zM813 597h8v3h-8zM1225 597h9v3h-9zM1423 597h11v3h-11zM1476 597h8v3h-8zM1487 597h19v3h-19zM1511 597h9v3h-9zM1522 597h9v3h-9zM1533 597h9v3h-9zM1558 597h22v3h-22zM574 600h8v3h-8zM642 600h17v3h-17zM662 600h8v3h-8zM692 600h11v3h-11zM706 600h8v3h-8zM719 600h9v3h-9zM747 600h3v3h-3zM752 600h3v3h-3zM766 600h8v3h-8zM777 600h8v3h-8zM796 600h9v3h-9zM1225 600h9v3h-9zM1423 600h14v3h-14zM1456 600h9v3h-9zM1476 600h8v3h-8zM1495 600h11v3h-11zM1511 600h9v3h-9zM1522 600h9v3h-9zM1533 600h9v3h-9zM1555 600h25v3h-25zM642 603h14v3h-14zM662 603h8v3h-8zM678 603h8v3h-8zM689 603h25v3h-25zM719 603h9v3h-9zM736 603h25v3h-25zM763 603h11v3h-11zM780 603h5v3h-5zM796 603h9v3h-9zM1225 603h9v3h-9zM1423 603h14v3h-14zM1454 603h13v3h-13zM1473 603h8v3h-8zM1498 603h8v3h-8zM1511 603h9v3h-9zM1522 603h9v3h-9zM1533 603h9v3h-9zM1553 603h24v3h-24zM645 606h11v2h-11zM664 606h9v2h-9zM675 606h36v2h-36zM719 606h9v2h-9zM733 606h41v2h-41zM780 606h8v2h-8zM796 606h9v2h-9zM1225 606h9v2h-9zM1423 606h14v2h-14zM1454 606h27v2h-27zM1498 606h8v2h-8zM1514 606h17v2h-17zM1533 606h9v2h-9zM1553 606h11v2h-11zM1572 606h3v2h-3zM648 608h3v3h-3zM664 608h47v3h-47zM722 608h6v3h-6zM733 608h39v3h-39zM780 608h8v3h-8zM796 608h6v3h-6zM1225 608h9v3h-9zM1421 608h8v3h-8zM1432 608h8v3h-8zM1451 608h30v3h-30zM1514 608h14v3h-14zM1533 608h9v3h-9zM1553 608h8v3h-8zM667 611h28v3h-28zM700 611h11v3h-11zM722 611h8v3h-8zM733 611h11v3h-11zM747 611h3v3h-3zM755 611h14v3h-14zM780 611h8v3h-8zM794 611h8v3h-8zM1225 611h9v3h-9zM1421 611h8v3h-8zM1432 611h8v3h-8zM1451 611h8v3h-8zM1465 611h13v3h-13zM1514 611h14v3h-14zM1536 611h6v3h-6zM1550 611h8v3h-8zM670 614h8v2h-8zM689 614h3v2h-3zM700 614h11v2h-11zM722 614h17v2h-17zM758 614h11v2h-11zM783 614h5v2h-5zM791 614h11v2h-11zM1228 614h8v2h-8zM1407 614h8v2h-8zM1421 614h8v2h-8zM1434 614h9v2h-9zM1451 614h5v2h-5zM1470 614h3v2h-3zM1514 614h14v2h-14zM1536 614h8v2h-8zM1550 614h8v2h-8zM670 616h8v3h-8zM706 616h2v3h-2zM722 616h17v3h-17zM763 616h3v3h-3zM783 616h19v3h-19zM1228 616h8v3h-8zM1407 616h8v3h-8zM1421 616h5v3h-5zM1434 616h9v3h-9zM1448 616h8v3h-8zM1517 616h11v3h-11zM1536 616h22v3h-22zM722 619h14v3h-14zM783 619h16v3h-16zM1228 619h8v3h-8zM1404 619h22v3h-22zM1434 619h9v3h-9zM1448 619h8v3h-8zM1520 619h2v3h-2zM1536 619h19v3h-19zM725 622h11v3h-11zM785 622h14v3h-14zM1228 622h8v3h-8zM1404 622h22v3h-22zM1437 622h6v3h-6zM1448 622h6v3h-6zM1536 622h19v3h-19zM728 625h2v3h-2zM785 625h11v3h-11zM1228 625h8v3h-8zM1401 625h9v3h-9zM1412 625h11v3h-11zM1437 625h17v3h-17zM1536 625h19v3h-19zM788 628h8v2h-8zM1228 628h8v2h-8zM1399 628h11v2h-11zM1412 628h11v2h-11zM1437 628h17v2h-17zM1539 628h5v2h-5zM1547 628h8v2h-8zM788 630h8v3h-8zM1231 630h5v3h-5zM1399 630h8v3h-8zM1412 630h11v3h-11zM1437 630h14v3h-14zM788 633h8v3h-8zM1231 633h8v3h-8zM1382 633h8v3h-8zM1399 633h8v3h-8zM1418 633h3v3h-3zM1440 633h11v3h-11zM1231 636h8v2h-8zM1382 636h8v2h-8zM1399 636h8v2h-8zM1443 636h2v2h-2zM1231 638h8v3h-8zM1379 638h14v3h-14zM1399 638h8v3h-8zM1234 641h8v3h-8zM1371 641h22v3h-22zM1396 641h8v3h-8zM1234 644h8v3h-8zM1368 644h17v3h-17zM1388 644h16v3h-16zM1234 647h8v3h-8zM1346 647h9v3h-9zM1368 647h14v3h-14zM1388 647h16v3h-16zM1234 650h8v2h-8zM1346 650h9v2h-9zM1366 650h8v2h-8zM1388 650h16v2h-16zM1236 652h9v3h-9zM1344 652h11v3h-11zM1366 652h8v3h-8zM1390 652h14v3h-14zM1236 655h9v3h-9zM1341 655h16v3h-16zM1366 655h5v3h-5zM1393 655h11v3h-11zM1236 658h9v2h-9zM1341 658h16v2h-16zM1363 658h8v2h-8zM1399 658h2v2h-2zM1236 660h9v3h-9zM1341 660h5v3h-5zM1349 660h8v3h-8zM1363 660h8v3h-8zM1239 663h6v3h-6zM1338 663h8v3h-8zM1352 663h5v3h-5zM1363 663h8v3h-8zM1239 666h8v3h-8zM1335 666h11v3h-11zM1352 666h8v3h-8zM1363 666h8v3h-8zM1239 669h8v3h-8zM1316 669h3v3h-3zM1335 669h9v3h-9zM1352 669h16v3h-16zM1239 672h8v2h-8zM1313 672h11v2h-11zM1335 672h6v2h-6zM1355 672h13v2h-13zM1242 674h5v3h-5zM1313 674h11v3h-11zM1327 674h3v3h-3zM1333 674h8v3h-8zM1355 674h13v3h-13zM1242 677h8v3h-8zM1313 677h28v3h-28zM1355 677h13v3h-13zM1242 680h8v2h-8zM1313 680h25v2h-25zM1357 680h3v2h-3zM1363 680h3v2h-3zM1245 682h5v3h-5zM1313 682h14v3h-14zM1330 682h8v3h-8zM1245 685h8v3h-8zM1313 685h9v3h-9zM1245 688h8v3h-8zM1313 688h6v3h-6zM1245 691h8v3h-8zM1311 691h8v3h-8zM1247 694h9v2h-9zM1311 694h8v2h-8zM1247 696h9v3h-9zM1311 696h8v3h-8zM1247 699h9v3h-9zM1311 699h8v3h-8zM1247 702h9v2h-9zM1311 702h8v2h-8zM1250 704h8v3h-8zM1311 704h8v3h-8zM1250 707h8v3h-8zM1302 707h3v3h-3zM1311 707h8v3h-8zM1250 710h8v3h-8zM1278 710h2v3h-2zM1297 710h11v3h-11zM1311 710h8v3h-8zM1253 713h8v3h-8zM1272 713h14v3h-14zM1297 713h19v3h-19zM1253 716h11v2h-11zM1272 716h14v2h-14zM1297 716h19v2h-19zM1253 718h11v3h-11zM1272 718h6v3h-6zM1280 718h9v3h-9zM1294 718h22v3h-22zM1256 721h8v3h-8zM1269 721h9v3h-9zM1280 721h9v3h-9zM1294 721h8v3h-8zM1305 721h11v3h-11zM1258 724h20v2h-20zM1280 724h9v2h-9zM1294 724h8v2h-8zM1305 724h11v2h-11zM1258 726h20v3h-20zM1280 726h9v3h-9zM1294 726h8v3h-8zM1311 726h2v3h-2zM1261 729h14v3h-14zM1283 729h8v3h-8zM1294 729h6v3h-6zM1283 732h17v3h-17zM1283 735h17v3h-17zM1286 738h14v2h-14zM1286 740h14v3h-14zM1286 743h11v3h-11zM1289 746h8v2h-8zM1289 748h8v3h-8zM1289 751h8v3h-8z"/>
<path fill="#00AD68" stroke="none" d="M1099 493h3v3h-3zM1126 493h9v3h-9zM1093 496h11v2h-11zM1126 496h14v2h-14zM1093 498h11v3h-11zM1126 498h14v3h-14zM1091 501h13v3h-13zM1124 501h8v3h-8zM1135 501h5v3h-5zM1091 504h13v2h-13zM1107 504h3v2h-3zM1124 504h8v2h-8zM1135 504h8v2h-8zM1091 506h22v3h-22zM1124 506h8v3h-8zM1135 506h8v3h-8zM1088 509h8v3h-8zM1099 509h16v3h-16zM1124 509h8v3h-8zM1135 509h8v3h-8zM1088 512h8v3h-8zM1099 512h19v3h-19zM1124 512h5v3h-5zM1135 512h8v3h-8zM1074 515h8v3h-8zM1088 515h5v3h-5zM1107 515h22v3h-22zM1137 515h6v3h-6zM1074 518h8v2h-8zM1085 518h8v2h-8zM1113 518h16v2h-16zM1137 518h9v2h-9zM1071 520h20v3h-20zM1113 520h16v3h-16zM1137 520h9v3h-9zM1071 523h20v3h-20zM1115 523h9v3h-9zM1137 523h9v3h-9zM1071 526h9v2h-9zM1082 526h3v2h-3zM1137 526h9v2h-9zM1071 528h6v3h-6zM1137 528h9v3h-9zM1047 531h8v3h-8zM1069 531h8v3h-8zM1140 531h8v3h-8zM1047 534h16v3h-16zM1069 534h8v3h-8zM1140 534h8v3h-8zM1038 537h3v3h-3zM1044 537h22v3h-22zM1069 537h8v3h-8zM1140 537h11v3h-11zM1036 540h38v2h-38zM1143 540h8v2h-8zM1033 542h16v3h-16zM1055 542h19v3h-19zM1146 542h5v3h-5zM1162 542h3v3h-3zM1033 545h11v3h-11zM1060 545h14v3h-14zM1146 545h8v3h-8zM1159 545h11v3h-11zM1030 548h8v2h-8zM1063 548h8v2h-8zM1146 548h8v2h-8zM1159 548h11v2h-11zM1027 550h11v3h-11zM1146 550h8v3h-8zM1159 550h14v3h-14zM1022 553h14v3h-14zM1146 553h8v3h-8zM1159 553h14v3h-14zM840 556h11v3h-11zM1019 556h14v3h-14zM1148 556h9v3h-9zM1159 556h17v3h-17zM838 559h16v3h-16zM912 559h8v3h-8zM1016 559h14v3h-14zM1148 559h9v3h-9zM1159 559h6v3h-6zM1168 559h8v3h-8zM1500 559h9v3h-9zM532 562h3v2h-3zM835 562h22v2h-22zM912 562h8v2h-8zM1014 562h13v2h-13zM1148 562h17v2h-17zM1170 562h6v2h-6zM1498 562h13v2h-13zM1517 562h3v2h-3zM1547 562h3v2h-3zM1553 562h2v2h-2zM1572 562h3v2h-3zM1577 562h3v2h-3zM530 564h11v3h-11zM832 564h25v3h-25zM912 564h8v3h-8zM928 564h9v3h-9zM959 564h8v3h-8zM970 564h8v3h-8zM1011 564h14v3h-14zM1148 564h17v3h-17zM1170 564h9v3h-9zM1498 564h24v3h-24zM1544 564h14v3h-14zM1569 564h14v3h-14zM527 567h14v3h-14zM832 567h11v3h-11zM849 567h8v3h-8zM912 567h27v3h-27zM956 567h25v3h-25zM983 567h9v3h-9zM1011 567h11v3h-11zM1151 567h14v3h-14zM1170 567h9v3h-9zM1498 567h24v3h-24zM1525 567h6v3h-6zM1542 567h16v3h-16zM1569 567h14v3h-14zM527 570h14v2h-14zM832 570h8v2h-8zM851 570h9v2h-9zM912 570h27v2h-27zM950 570h31v2h-31zM983 570h9v2h-9zM1008 570h11v2h-11zM1154 570h11v2h-11zM1170 570h9v2h-9zM1382 570h6v2h-6zM1434 570h11v2h-11zM1495 570h8v2h-8zM1506 570h27v2h-27zM1542 570h22v2h-22zM1569 570h14v2h-14zM458 572h3v3h-3zM499 572h3v3h-3zM527 572h16v3h-16zM568 572h6v3h-6zM615 572h8v3h-8zM692 572h5v3h-5zM777 572h3v3h-3zM783 572h2v3h-2zM829 572h9v3h-9zM851 572h9v3h-9zM909 572h8v3h-8zM920 572h22v3h-22zM950 572h22v3h-22zM975 572h17v3h-17zM1003 572h13v3h-13zM1154 572h11v3h-11zM1170 572h9v3h-9zM1366 572h8v3h-8zM1379 572h11v3h-11zM1415 572h3v3h-3zM1421 572h8v3h-8zM1432 572h16v3h-16zM1495 572h8v3h-8zM1506 572h27v3h-27zM1542 572h8v3h-8zM1553 572h11v3h-11zM1569 572h6v3h-6zM1577 572h3v3h-3zM428 575h8v3h-8zM455 575h11v3h-11zM494 575h11v3h-11zM527 575h5v3h-5zM535 575h8v3h-8zM565 575h11v3h-11zM598 575h3v3h-3zM604 575h3v3h-3zM612 575h14v3h-14zM656 575h8v3h-8zM689 575h11v3h-11zM774 575h14v3h-14zM829 575h9v3h-9zM851 575h9v3h-9zM890 575h5v3h-5zM909 575h8v3h-8zM923 575h8v3h-8zM934 575h22v3h-22zM964 575h8v3h-8zM975 575h19v3h-19zM997 575h3v3h-3zM1003 575h13v3h-13zM1159 575h3v3h-3zM1170 575h9v3h-9zM1341 575h8v3h-8zM1363 575h33v3h-33zM1412 575h36v3h-36zM1495 575h8v3h-8zM1509 575h2v3h-2zM1517 575h19v3h-19zM1542 575h8v3h-8zM1553 575h22v3h-22zM370 578h8v3h-8zM425 578h11v3h-11zM455 578h11v3h-11zM494 578h14v3h-14zM524 578h8v3h-8zM535 578h8v3h-8zM565 578h11v3h-11zM582 578h27v3h-27zM612 578h14v3h-14zM634 578h3v3h-3zM651 578h13v3h-13zM678 578h25v3h-25zM772 578h19v3h-19zM827 578h8v3h-8zM851 578h9v3h-9zM868 578h3v3h-3zM873 578h3v3h-3zM887 578h11v3h-11zM909 578h8v3h-8zM937 578h19v3h-19zM975 578h39v3h-39zM1173 578h6v3h-6zM1338 578h14v3h-14zM1363 578h36v3h-36zM1412 578h36v3h-36zM1462 578h8v3h-8zM1495 578h8v3h-8zM1517 578h8v3h-8zM1528 578h8v3h-8zM1542 578h8v3h-8zM1553 578h22v3h-22zM370 581h8v3h-8zM422 581h17v3h-17zM455 581h14v3h-14zM472 581h5v3h-5zM491 581h17v3h-17zM524 581h8v3h-8zM538 581h5v3h-5zM565 581h61v3h-61zM631 581h11v3h-11zM648 581h22v3h-22zM675 581h31v3h-31zM772 581h22v3h-22zM827 581h8v3h-8zM854 581h8v3h-8zM865 581h14v3h-14zM887 581h11v3h-11zM906 581h11v3h-11zM939 581h14v3h-14zM978 581h3v3h-3zM983 581h3v3h-3zM989 581h16v3h-16zM1173 581h8v3h-8zM1330 581h3v3h-3zM1335 581h20v3h-20zM1363 581h36v3h-36zM1412 581h9v3h-9zM1423 581h14v3h-14zM1443 581h5v3h-5zM1456 581h17v3h-17zM1478 581h3v3h-3zM1495 581h5v3h-5zM1517 581h8v3h-8zM1528 581h8v3h-8zM1539 581h8v3h-8zM1558 581h14v3h-14zM293 584h8v2h-8zM332 584h5v2h-5zM367 584h11v2h-11zM420 584h22v2h-22zM455 584h25v2h-25zM491 584h17v2h-17zM524 584h6v2h-6zM538 584h8v2h-8zM563 584h8v2h-8zM574 584h44v2h-44zM620 584h22v2h-22zM648 584h22v2h-22zM673 584h19v2h-19zM695 584h11v2h-11zM769 584h8v2h-8zM783 584h11v2h-11zM827 584h8v2h-8zM854 584h28v2h-28zM887 584h14v2h-14zM906 584h11v2h-11zM939 584h14v2h-14zM989 584h16v2h-16zM1173 584h8v2h-8zM1324 584h33v2h-33zM1360 584h8v2h-8zM1371 584h11v2h-11zM1385 584h16v2h-16zM1410 584h8v2h-8zM1423 584h9v2h-9zM1443 584h8v2h-8zM1454 584h30v2h-30zM1492 584h8v2h-8zM1528 584h8v2h-8zM1539 584h8v2h-8zM1558 584h14v2h-14zM293 586h11v3h-11zM329 586h11v3h-11zM348 586h3v3h-3zM367 586h14v3h-14zM411 586h31v3h-31zM453 586h8v3h-8zM464 586h16v3h-16zM488 586h9v3h-9zM502 586h11v3h-11zM521 586h9v3h-9zM538 586h8v3h-8zM560 586h11v3h-11zM574 586h11v3h-11zM604 586h11v3h-11zM620 586h25v3h-25zM648 586h8v3h-8zM659 586h25v3h-25zM697 586h9v3h-9zM728 586h13v3h-13zM758 586h3v3h-3zM769 586h8v3h-8zM785 586h9v3h-9zM824 586h8v3h-8zM854 586h28v3h-28zM884 586h20v3h-20zM906 586h9v3h-9zM939 586h9v3h-9zM997 586h3v3h-3zM1173 586h8v3h-8zM1319 586h25v3h-25zM1349 586h19v3h-19zM1371 586h8v3h-8zM1393 586h8v3h-8zM1410 586h8v3h-8zM1423 586h9v3h-9zM1443 586h19v3h-19zM1465 586h19v3h-19zM1492 586h8v3h-8zM1531 586h5v3h-5zM1539 586h8v3h-8zM1558 586h8v3h-8zM293 589h11v3h-11zM310 589h2v3h-2zM329 589h14v3h-14zM345 589h11v3h-11zM365 589h16v3h-16zM389 589h3v3h-3zM411 589h17v3h-17zM433 589h9v3h-9zM453 589h8v3h-8zM464 589h22v3h-22zM488 589h9v3h-9zM502 589h11v3h-11zM521 589h9v3h-9zM538 589h11v3h-11zM560 589h11v3h-11zM576 589h6v3h-6zM604 589h11v3h-11zM623 589h11v3h-11zM637 589h16v3h-16zM664 589h14v3h-14zM700 589h8v3h-8zM725 589h19v3h-19zM755 589h19v3h-19zM788 589h8v3h-8zM824 589h8v3h-8zM857 589h14v3h-14zM876 589h28v3h-28zM906 589h9v3h-9zM1173 589h8v3h-8zM1313 589h28v3h-28zM1352 589h14v3h-14zM1396 589h5v3h-5zM1410 589h8v3h-8zM1443 589h16v3h-16zM1467 589h22v3h-22zM1492 589h8v3h-8zM1531 589h16v3h-16zM296 592h30v2h-30zM329 592h27v2h-27zM365 592h16v2h-16zM387 592h11v2h-11zM409 592h13v2h-13zM433 592h14v2h-14zM453 592h8v2h-8zM464 592h22v2h-22zM488 592h9v2h-9zM508 592h8v2h-8zM521 592h6v2h-6zM541 592h13v2h-13zM560 592h8v2h-8zM607 592h2v2h-2zM623 592h11v2h-11zM637 592h16v2h-16zM664 592h14v2h-14zM700 592h8v2h-8zM722 592h25v2h-25zM750 592h2v2h-2zM755 592h19v2h-19zM788 592h11v2h-11zM821 592h8v2h-8zM860 592h8v2h-8zM876 592h17v2h-17zM895 592h17v2h-17zM1173 592h8v2h-8zM1289 592h5v2h-5zM1297 592h3v2h-3zM1302 592h3v2h-3zM1308 592h22v2h-22zM1352 592h11v2h-11zM1396 592h8v2h-8zM1410 592h5v2h-5zM1445 592h11v2h-11zM1470 592h19v2h-19zM1492 592h8v2h-8zM1531 592h16v2h-16zM299 594h35v3h-35zM337 594h33v3h-33zM376 594h24v3h-24zM409 594h13v3h-13zM436 594h11v3h-11zM450 594h8v3h-8zM466 594h6v3h-6zM480 594h6v3h-6zM488 594h6v3h-6zM508 594h19v3h-19zM541 594h13v3h-13zM557 594h8v3h-8zM626 594h5v3h-5zM640 594h11v3h-11zM667 594h8v3h-8zM703 594h11v3h-11zM722 594h11v3h-11zM736 594h38v3h-38zM788 594h11v3h-11zM816 594h13v3h-13zM860 594h8v3h-8zM879 594h14v3h-14zM898 594h14v3h-14zM1173 594h8v3h-8zM1286 594h41v3h-41zM1352 594h11v3h-11zM1396 594h8v3h-8zM1407 594h8v3h-8zM1448 594h3v3h-3zM1478 594h20v3h-20zM1531 594h16v3h-16zM299 597h35v3h-35zM340 597h30v3h-30zM376 597h27v3h-27zM409 597h5v3h-5zM436 597h11v3h-11zM450 597h8v3h-8zM480 597h14v3h-14zM508 597h19v3h-19zM543 597h22v3h-22zM642 597h9v3h-9zM703 597h11v3h-11zM722 597h8v3h-8zM741 597h31v3h-31zM791 597h8v3h-8zM816 597h13v3h-13zM879 597h11v3h-11zM898 597h14v3h-14zM1173 597h8v3h-8zM1212 597h5v3h-5zM1286 597h30v3h-30zM1357 597h3v3h-3zM1399 597h16v3h-16zM1478 597h20v3h-20zM1531 597h16v3h-16zM301 600h6v3h-6zM310 600h13v3h-13zM326 600h3v3h-3zM340 600h8v3h-8zM351 600h19v3h-19zM378 600h14v3h-14zM395 600h19v3h-19zM436 600h11v3h-11zM450 600h8v3h-8zM480 600h14v3h-14zM510 600h17v3h-17zM549 600h14v3h-14zM708 600h6v3h-6zM719 600h9v3h-9zM741 600h14v3h-14zM766 600h3v3h-3zM794 600h5v3h-5zM816 600h5v3h-5zM824 600h3v3h-3zM884 600h3v3h-3zM901 600h8v3h-8zM1176 600h8v3h-8zM1209 600h11v3h-11zM1231 600h8v3h-8zM1278 600h2v3h-2zM1283 600h30v3h-30zM1399 600h13v3h-13zM1478 600h20v3h-20zM1531 600h16v3h-16zM356 603h6v3h-6zM365 603h2v3h-2zM381 603h8v3h-8zM398 603h16v3h-16zM442 603h16v3h-16zM480 603h14v3h-14zM510 603h9v3h-9zM521 603h3v3h-3zM549 603h14v3h-14zM708 603h9v3h-9zM719 603h9v3h-9zM744 603h3v3h-3zM750 603h2v3h-2zM794 603h11v3h-11zM813 603h8v3h-8zM901 603h8v3h-8zM1176 603h8v3h-8zM1195 603h3v3h-3zM1209 603h11v3h-11zM1231 603h14v3h-14zM1275 603h16v3h-16zM1297 603h3v3h-3zM1399 603h11v3h-11zM1478 603h20v3h-20zM1533 603h11v3h-11zM403 606h8v2h-8zM442 606h13v2h-13zM483 606h3v2h-3zM488 606h3v2h-3zM552 606h11v2h-11zM708 606h9v2h-9zM719 606h9v2h-9zM794 606h11v2h-11zM813 606h8v2h-8zM1176 606h8v2h-8zM1190 606h11v2h-11zM1209 606h14v2h-14zM1231 606h16v2h-16zM1275 606h16v2h-16zM1401 606h3v2h-3zM1484 606h14v2h-14zM1533 606h11v2h-11zM403 608h8v3h-8zM442 608h13v3h-13zM554 608h3v3h-3zM711 608h14v3h-14zM799 608h6v3h-6zM813 608h5v3h-5zM1176 608h8v3h-8zM1190 608h11v3h-11zM1209 608h14v3h-14zM1228 608h22v3h-22zM1275 608h16v3h-16zM1487 608h8v3h-8zM1533 608h11v3h-11zM442 611h13v3h-13zM711 611h14v3h-14zM799 611h8v3h-8zM810 611h8v3h-8zM1176 611h8v3h-8zM1187 611h14v3h-14zM1206 611h17v3h-17zM1228 611h8v3h-8zM1239 611h14v3h-14zM1272 611h8v3h-8zM1283 611h8v3h-8zM1487 611h8v3h-8zM1533 611h11v3h-11zM447 614h8v2h-8zM711 614h14v2h-14zM799 614h8v2h-8zM810 614h6v2h-6zM1179 614h5v2h-5zM1187 614h16v2h-16zM1206 614h8v2h-8zM1217 614h6v2h-6zM1228 614h8v2h-8zM1242 614h11v2h-11zM1272 614h6v2h-6zM1487 614h8v2h-8zM1533 614h11v2h-11zM714 616h8v3h-8zM802 616h14v3h-14zM1179 616h13v3h-13zM1198 616h16v3h-16zM1217 616h8v3h-8zM1228 616h6v3h-6zM1247 616h6v3h-6zM1269 616h9v3h-9zM1536 616h3v3h-3zM802 619h11v3h-11zM1179 619h13v3h-13zM1198 619h16v3h-16zM1217 619h17v3h-17zM1247 619h9v3h-9zM1269 619h9v3h-9zM802 622h11v3h-11zM1184 622h3v3h-3zM1198 622h14v3h-14zM1217 622h14v3h-14zM1247 622h9v3h-9zM1269 622h9v3h-9zM805 625h2v3h-2zM1201 625h8v3h-8zM1217 625h14v3h-14zM1247 625h9v3h-9zM1269 625h9v3h-9zM1201 628h8v2h-8zM1220 628h8v2h-8zM1250 628h8v2h-8zM1267 628h8v2h-8zM1250 630h8v3h-8zM1264 630h11v3h-11zM1250 633h8v3h-8zM1264 633h11v3h-11zM1253 636h22v2h-22zM1253 638h14v3h-14zM1253 641h14v3h-14zM1256 644h8v3h-8zM1256 647h8v3h-8z"/>
</g>
<g font-family="'Liberation Sans', Arial, sans-serif" font-size="78" fill="#000" text-anchor="end">
<text x="258.2" y="352.7">5</text>
<text x="258.2" y="611.8">0</text>
<text x="258.2" y="871.3">-5</text>
</g>
<defs>
<clipPath id="c10"><rect x="100" y="11.0" width="200" height="72.97"/><rect x="100" y="11.0" width="79.24" height="100"/><rect x="214.87" y="11.0" width="85.13" height="100"/><rect x="193.61" y="11.0" width="7.49" height="100"/></clipPath>
<clipPath id="c11"><rect x="100" y="1050.8" width="200" height="72.97"/><rect x="100" y="1050.8" width="79.24" height="100"/><rect x="214.87" y="1050.8" width="85.13" height="100"/><rect x="193.61" y="1050.8" width="7.49" height="100"/></clipPath>
</defs>
<text x="174.3 214.82" y="91.0" clip-path="url(#c10)" font-family="'Liberation Sans', Arial, sans-serif" font-size="78">10</text>
<text x="147.0 174.3 214.82" y="1130.8" clip-path="url(#c11)" font-family="'Liberation Sans', Arial, sans-serif" font-size="78">-10</text>
<g font-family="'Liberation Sans', Arial, sans-serif" font-size="78" fill="#000" text-anchor="middle">
<text x="292.75" y="1201.8">350</text>
<text x="614.9" y="1201.8">400</text>
<text x="936.8" y="1201.8">450</text>
<text x="1259.7" y="1201.8">500</text>
<text x="1581.5" y="1201.8">550</text>
</g>
<text x="589.5" y="1300.5" font-family="'Liberation Sans', Arial, sans-serif" font-size="88.5">Wavelength / nm</text>
<text transform="translate(103.5,588.15) rotate(-90)" font-family="'Liberation Sans', Arial, sans-serif" font-size="87.1" text-anchor="middle">θ / mdeg</text>
</svg>
</body></html>
